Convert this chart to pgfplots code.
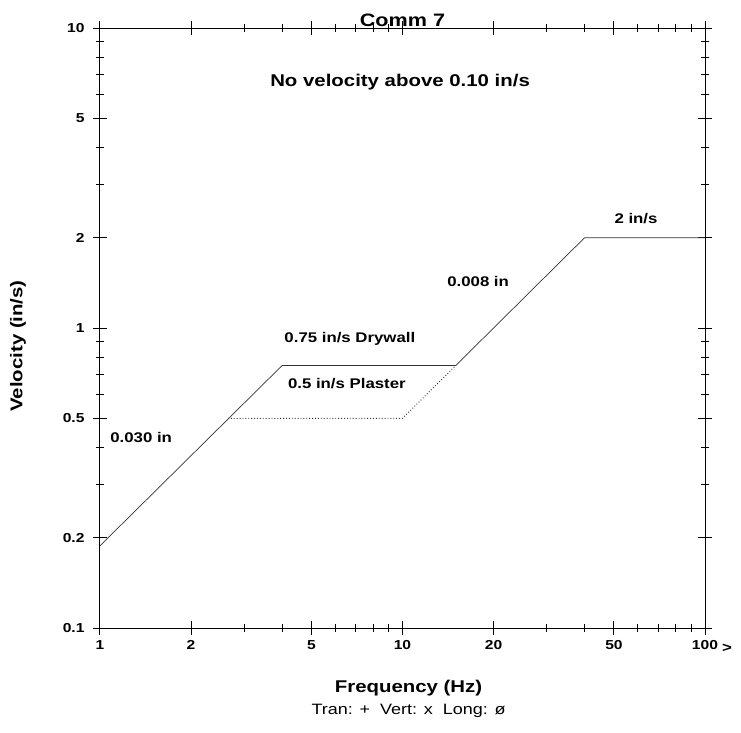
\documentclass[border=0pt]{standalone}
\usepackage{fontspec}
\setmainfont[FakeStretch=1.2]{Liberation Sans}
\usepackage{pgfplots}
\pgfplotsset{compat=1.18}
\usetikzlibrary{calc}
\newcommand\fs[1]{\fontsize{#1}{#1}\selectfont}

\begin{document}
\begin{tikzpicture}
\useasboundingbox (-100pt,-104pt) rectangle (641pt,628pt);
\begin{axis}[
    xmode=log, ymode=log,
    log identify minor tick positions=false,
    scale only axis,
    width=605pt, height=600pt,
    xmin=1, xmax=100, ymin=0.1, ymax=10,
    clip=false,
    axis line style={black, line width=1pt},
    xtick={1,2,5,10,20,50,100},
    xticklabels={1,2,5,10,20,50,100},
    minor xtick={3,4,6,7,8,9,30,40,60,70,80,90},
    ytick={0.1,0.2,0.5,1,2,5,10},
    yticklabels={0.1,0.2,0.5,1,2,5,10},
    minor ytick={0.3,0.4,0.6,0.7,0.8,0.9,3,4,6,7,8,9},
    xtick pos=both, ytick pos=both,
    tick align=center,
    major tick length=14pt, minor tick length=8pt,
    every tick/.style={black, line width=1pt},
    ticklabel style={font=\bfseries\fs{13}},
    xticklabel style={yshift=-2pt},
    yticklabel style={xshift=-5pt},
]
% 0.030 in displacement -> 0.75 in/s (drywall) -> 0.008 in -> 2 in/s
\addplot[black!80, line width=0.7pt] coordinates {
    (1,0.188) (4,0.75) (15,0.75) (40,2) (100,2)};
% 0.5 in/s plaster limit
\addplot[black!80, line width=0.9pt, dotted] coordinates {
    (2.65,0.5) (10,0.5) (15,0.75)};

\node[font=\bfseries\fs{18}, anchor=base] at (rel axis cs:0.5,1) [yshift=2pt] {Comm 7};
\node[font=\bfseries\fs{17}] at (rel axis cs:0.496,0.91) {No velocity above 0.10 in/s};
\node[font=\bfseries\fs{14}] at (rel axis cs:0.886,0.683) {2 in/s};
\node[font=\bfseries\fs{14}] at (rel axis cs:0.625,0.578) {0.008 in};
\node[font=\bfseries\fs{14}] at (rel axis cs:0.413,0.482) {0.75 in/s Drywall};
\node[font=\bfseries\fs{14}] at (rel axis cs:0.408,0.408) {0.5 in/s Plaster};
\node[font=\bfseries\fs{14}] at (rel axis cs:0.068,0.318) {0.030 in};
\node[font=\bfseries\fs{14}] at (rel axis cs:1,0) [xshift=22pt, yshift=-20pt] {>};
\node[font=\bfseries\fs{17}] at (rel axis cs:0.51,0) [yshift=-60pt] {Frequency (Hz)};
\node[font=\fs{15}] at (rel axis cs:0.51,0) [yshift=-83pt] {Tran: + \ Vert: x \ Long: ø};
\node[font=\bfseries\fs{17}, rotate=90] at ($(rel axis cs:0,0.47)+(-82pt,0pt)$) {Velocity (in/s)};
\end{axis}
\end{tikzpicture}
\end{document}
